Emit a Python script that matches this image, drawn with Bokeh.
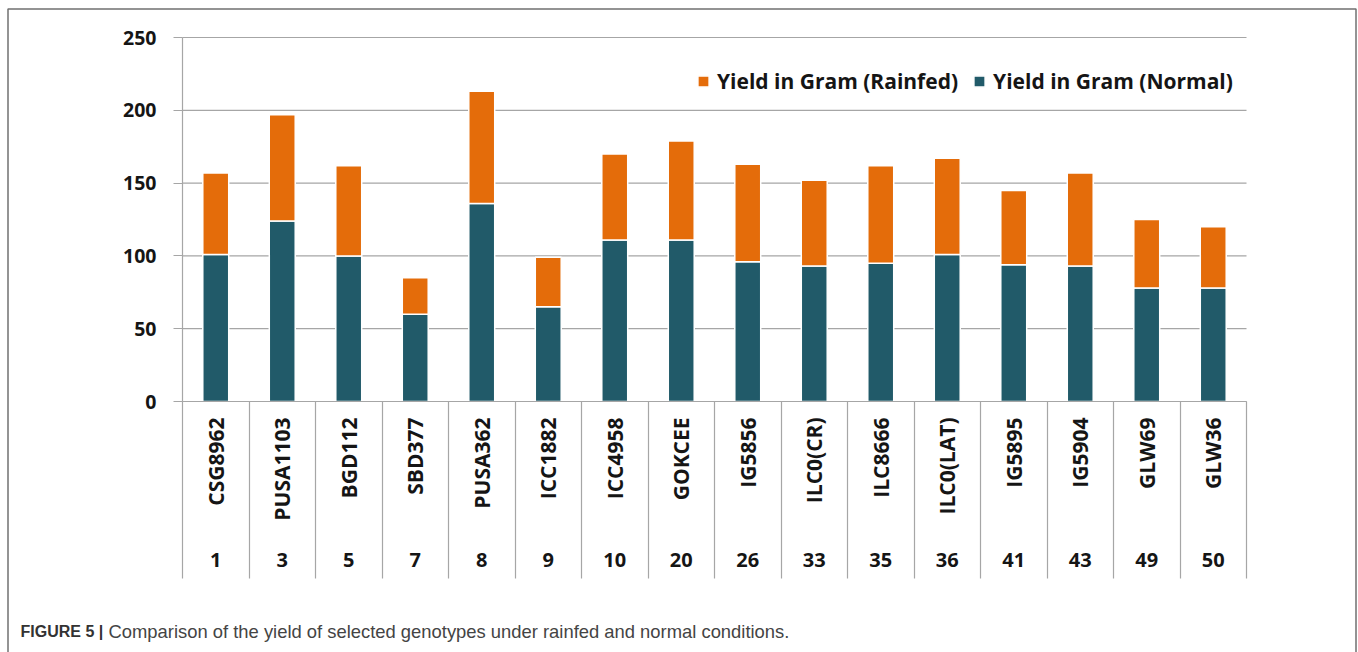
import math
from bokeh.plotting import figure
from bokeh.models import (FixedTicker, LinearAxis, Range1d, Legend, LegendItem,
                          ColumnDataSource, Grid)
from bokeh.core.properties import value
from bokeh.embed import file_html
from bokeh.resources import INLINE

# ---------------- data ----------------
genotypes = ["CSG8962", "PUSA1103", "BGD112", "SBD377", "PUSA362", "ICC1882",
             "ICC4958", "GOKCEE", "IG5856", "ILC0(CR)", "ILC8666", "ILC0(LAT)",
             "IG5895", "IG5904", "GLW69", "GLW36"]
numbers = ["1", "3", "5", "7", "8", "9", "10", "20", "26", "33", "35", "36",
           "41", "43", "49", "50"]
normal = [101, 124, 100, 60, 136, 65, 111, 111, 96, 93, 95, 101, 94, 93, 78, 78]
rainfed = [56, 73, 62, 25, 77, 34, 59, 68, 67, 59, 67, 66, 51, 64, 47, 42]
y_ticks = [0, 50, 100, 150, 200, 250]
series_names = ["Yield in Gram (Rainfed)", "Yield in Gram (Normal)"]
caption_bold = "FIGURE 5 |"
caption_text = "Comparison of the yield of selected genotypes under rainfed and normal conditions."

# ---------------- style / layout ----------------
W, H = 1358, 652
BLUE = "#215a69"
ORANGE = "#e46c0a"
GRID = "#a6a6a6"
FONT = "Open Sans"
TXT = "#151515"

# pixel geometry of the plotting area (frame covers the whole canvas)
X0_PX, CAT_PX = 182.0, 66.5        # left of first category, width of one category
Y0_PX, UNIT_PX = 401.0, 1.456      # pixel row of value 0, pixels per unit


def dx(px):
    return (px - X0_PX) / CAT_PX


def dy(py):
    return (Y0_PX - py) / UNIT_PX


n = len(genotypes)
centers = [i + 0.5 for i in range(n)]
bounds_x = list(range(n + 1))
src = ColumnDataSource(dict(x=centers, normal=normal, rainfed=rainfed))

p = figure(width=W, height=H, output_backend="svg", toolbar_location=None,
           x_range=Range1d(dx(0), dx(W)), y_range=Range1d(dy(H), dy(0)),
           x_axis_location=None, y_axis_location=None,
           min_border=0, min_border_left=0, min_border_right=0,
           min_border_top=0, min_border_bottom=0)
p.outline_line_color = None
p.background_fill_color = "white"
p.border_fill_color = "white"
p.center = [r for r in p.center if not isinstance(r, Grid)]

# horizontal grid lines (behind the bars, limited to the category span)
p.segment(x0=[0] * len(y_ticks), x1=[n] * len(y_ticks), y0=y_ticks, y1=y_ticks,
          line_color=GRID, line_width=1.2)

# bars
rs = p.vbar_stack(["normal", "rainfed"], x="x", width=0.39, source=src,
                  fill_color=[BLUE, ORANGE], line_color="white", line_width=1.5)


def style_labels(ax, size):
    ax.major_label_text_font = FONT
    ax.major_label_text_font_style = "bold"
    ax.major_label_text_font_size = size
    ax.major_label_text_color = TXT


# y axis
yax = LinearAxis(ticker=FixedTicker(ticks=y_ticks), fixed_location=0,
                 bounds=(0, y_ticks[-1]))
yax.axis_line_color = GRID
yax.axis_line_width = 1.2
yax.major_tick_line_color = GRID
yax.major_tick_line_width = 1.2
yax.major_tick_out = 9
yax.major_tick_in = 0
yax.minor_tick_line_color = None
yax.major_label_standoff = 17
style_labels(yax, "19.5px")
p.add_layout(yax, "left")

# x axis: category separators
xs_ax = LinearAxis(ticker=FixedTicker(ticks=[], minor_ticks=bounds_x),
                   fixed_location=0, bounds=(0, n))
xs_ax.axis_line_color = GRID
xs_ax.axis_line_width = 1.2
xs_ax.major_tick_line_color = None
xs_ax.minor_tick_line_color = GRID
xs_ax.minor_tick_line_width = 1.2
xs_ax.minor_tick_out = 177
xs_ax.minor_tick_in = 0
xs_ax.major_label_text_font_size = "0px"
p.add_layout(xs_ax, "below")

# x axis: genotype names (reading upwards, ending next to the axis)
xa = LinearAxis(ticker=FixedTicker(ticks=centers, minor_ticks=[]),
                fixed_location=0, bounds=(0, n))
xa.major_label_overrides = {c: g for c, g in zip(centers, genotypes)}
xa.major_label_orientation = math.pi / 2
xa.axis_line_color = None
xa.major_tick_line_color = None
xa.minor_tick_line_color = None
xa.major_tick_out = 0
xa.major_tick_in = 0
xa.major_label_standoff = 16
style_labels(xa, "21px")
p.add_layout(xa, "below")

# x axis: genotype numbers
xb = LinearAxis(ticker=FixedTicker(ticks=centers, minor_ticks=[]),
                fixed_location=0, bounds=(0, n))
xb.major_label_overrides = {c: s for c, s in zip(centers, numbers)}
xb.axis_line_color = None
xb.major_tick_line_color = None
xb.minor_tick_line_color = None
xb.major_tick_out = 0
xb.major_tick_in = 0
xb.major_label_standoff = 151
style_labels(xb, "20px")
p.add_layout(xb, "below")

# legend
legend = Legend(items=[LegendItem(label=series_names[0], renderers=[rs[1]]),
                       LegendItem(label=series_names[1], renderers=[rs[0]])],
                orientation="horizontal", location=(696, 557),
                glyph_width=14, glyph_height=14, label_standoff=7, spacing=14,
                padding=0, margin=0, border_line_color=None,
                background_fill_alpha=0, label_height=20,
                label_text_font=FONT, label_text_font_style="bold",
                label_text_font_size="21px", label_text_color=TXT)
p.add_layout(legend, "center")

# outer frame (open at the bottom, as in the source figure)
p.multi_line(xs=[[dx(7.5), dx(7.5), dx(1355.5), dx(1355.5)]],
             ys=[[dy(H + 5), dy(8.5), dy(8.5), dy(H + 5)]],
             line_color="#707070", line_width=1.5)

# caption
p.text(x=[dx(20)], y=[dy(631)], text=[caption_bold],
       text_font=value("Liberation Sans"), text_font_style="bold",
       text_font_size="16px", text_color="#333333", text_baseline="middle")
p.text(x=[dx(108)], y=[dy(631)], text=[caption_text],
       text_font=value("Liberation Sans"), text_font_size="18.4px",
       text_color="#444444", text_baseline="middle")

open("out.html", "w").write(file_html(p, INLINE))
